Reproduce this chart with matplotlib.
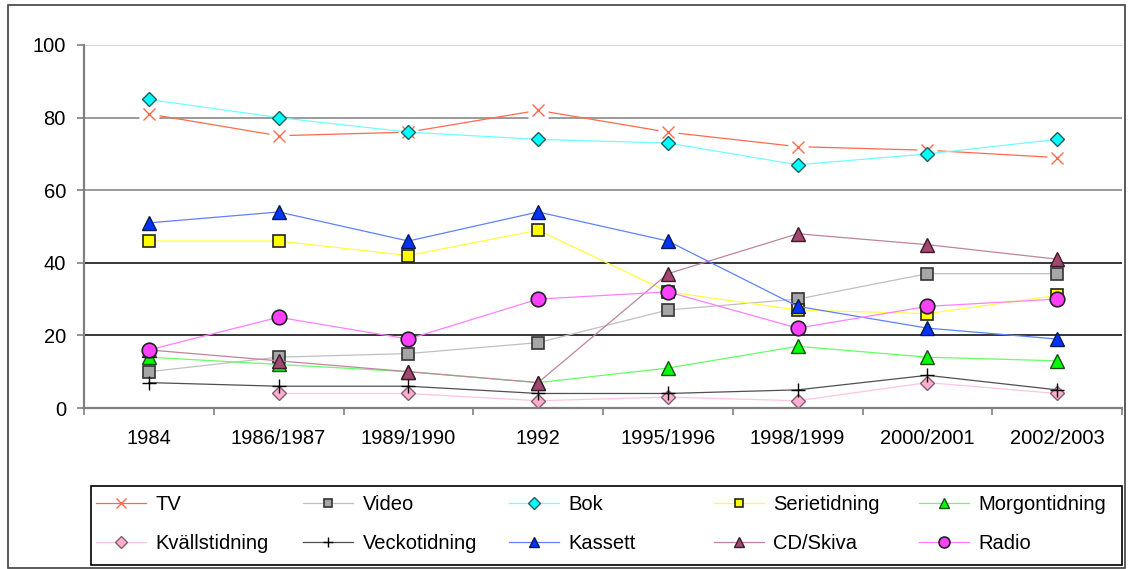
import numpy as np
import matplotlib
matplotlib.use('Agg')
import matplotlib.pyplot as plt
from matplotlib.lines import Line2D
from matplotlib.patches import Rectangle

plt.rcParams['font.family'] = ['Liberation Sans', 'DejaVu Sans']
plt.rcParams['font.size'] = 14.5

years = ['1984', '1986/1987', '1989/1990', '1992', '1995/1996',
         '1998/1999', '2000/2001', '2002/2003']

tv = [81, 75, 76, 82, 76, 72, 71, 69]
video = [10, 14, 15, 18, 27, 30, 37, 37]
bok = [85, 80, 76, 74, 73, 67, 70, 74]
serietidning = [46, 46, 42, 49, 32, 27, 26, 31]
morgontidning = [14, 12, 10, 7, 11, 17, 14, 13]
kvallstidning = [np.nan, 4, 4, 2, 3, 2, 7, 4]
veckotidning = [7, 6, 6, 4, 4, 5, 9, 5]
kassett = [51, 54, 46, 54, 46, 28, 22, 19]
cd_skiva = [16, 13, 10, 7, 37, 48, 45, 41]
radio = [16, 25, 19, 30, 32, 22, 28, 30]

W, H = 1129, 569
fig = plt.figure(figsize=(W / 100, H / 100), dpi=100)
ax = fig.add_axes([84 / W, 161 / H, 1038 / W, 363 / H])

x = np.arange(len(years))

# gridlines (Excel draws them in slightly different greys)
for yv, c in zip([20, 40, 60, 80, 100],
                 ['black', 'black', '#808080', '#808080', '#c8c8c8']):
    ax.axhline(yv, color=c, lw=1.1, zorder=0.5)

# name, values, marker, size, face, edge, line colour, edge width
series = [
    ('TV', tv, 'x', 9, '#ff6a4d', '#ff6a4d', '#ff6a4d', 1.0),
    ('Video', video, 's', 8.5, '#a6a6a6', '#333333', '#c0c0c0', 1.2),
    ('Bok', bok, 'D', 7.5, '#00ffff', '#1f5f5f', '#70ffff', 1.0),
    ('Serietidning', serietidning, 's', 8.5, '#ffff00', '#222222', '#ffff40', 1.2),
    ('Morgontidning', morgontidning, '^', 10.5, '#00ff00', '#1a4d1a', '#66ff66', 1.0),
    ('Kvällstidning', kvallstidning, 'D', 7.5, '#ffadd0', '#806070', '#ffc4de', 1.0),
    ('Veckotidning', veckotidning, '+', 10, 'black', 'black', '#505050', 1.0),
    ('Kassett', kassett, '^', 10.5, '#0033ff', '#0a1a4d', '#6080ff', 1.0),
    ('CD/Skiva', cd_skiva, '^', 10.5, '#a04870', '#3d1a2a', '#c083a0', 1.0),
    ('Radio', radio, 'o', 10.5, '#ff40ff', '#222222', '#ff80ff', 1.2),
]

handles = []
for name, vals, m, ms, fc, ec, lc, mew in series:
    ax.plot(x, vals, color=lc, lw=0.9)
    if name == 'TV':
        # white halo around the crosses, like the original
        ax.plot(x, vals, 's', color='white', ms=15, mec='none')
    ax.plot(x, vals, ls='none', marker=m, ms=ms, mfc=fc, mec=ec, mew=mew)
    handles.append(Line2D([], [], color=lc, lw=0.9, marker=m,
                          ms=ms * 0.75, mfc=fc, mec=ec, mew=mew, label=name))

ax.set_xlim(-0.5, 7.5)
ax.set_ylim(0, 100)

ax.set_xticks(np.arange(-0.5, 8, 1))
ax.tick_params(axis='x', which='major', length=5, width=1.2,
               color='#808080', labelbottom=False)
ax.set_xticks(x, minor=True)
ax.set_xticklabels(years, minor=True)
ax.tick_params(axis='x', which='minor', length=0, pad=15)

ax.set_yticks(range(0, 101, 20))
ax.tick_params(axis='y', length=5, width=1.2, color='#808080', pad=8)

for s in ['top', 'right']:
    ax.spines[s].set_visible(False)
for s in ['left', 'bottom']:
    ax.spines[s].set_color('#808080')
    ax.spines[s].set_linewidth(1.6)

# legend: Excel puts the entries in 5 evenly spaced columns, row by row
col_x = [96, 303, 509, 714, 919]
for i, x0 in enumerate(col_x):
    fig.legend(handles=[handles[i], handles[i + 5]], loc='center left',
               bbox_to_anchor=(x0 / W, (H - 524) / H), frameon=False,
               borderpad=0, borderaxespad=0, handlelength=2.5,
               handletextpad=0.45, labelspacing=0.95, fontsize=14.5)

fig.add_artist(Rectangle((91 / W, 4 / H), 1031 / W, 79 / H,
                         transform=fig.transFigure, fill=False,
                         ec='black', lw=1.2))
fig.add_artist(Rectangle((8 / W, 1 / H), 1117 / W, 563 / H,
                         transform=fig.transFigure, fill=False,
                         ec='#404040', lw=1.2))

fig.savefig('out.png', dpi=100)
